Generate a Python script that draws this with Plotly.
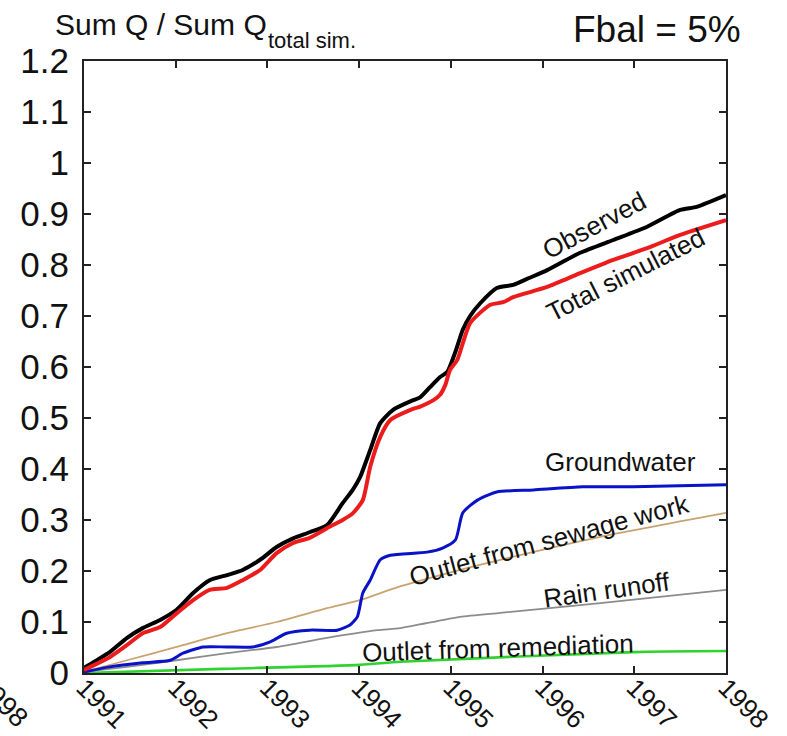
import plotly.graph_objects as go

# ---- data (years as decimals, values as fraction of total simulated) ----
obs_x = [1991.0, 1991.28, 1991.47, 1991.64, 1991.83, 1992.01, 1992.19, 1992.37, 1992.56, 1992.73,
         1992.92, 1993.10, 1993.28, 1993.46, 1993.65, 1993.82, 1993.93, 1994.01, 1994.12, 1994.23,
         1994.37, 1994.59, 1994.66, 1994.77, 1994.88, 1994.96, 1995.05, 1995.13, 1995.21, 1995.32,
         1995.50, 1995.68, 1995.86, 1996.05, 1996.41, 1996.77, 1997.14, 1997.50, 1997.68, 1998.0]
obs_y = [0.01, 0.041, 0.069, 0.088, 0.104, 0.124, 0.157, 0.182, 0.192, 0.202,
         0.222, 0.247, 0.264, 0.276, 0.29, 0.333, 0.359, 0.384, 0.437, 0.49,
         0.516, 0.535, 0.54, 0.56, 0.58, 0.59, 0.63, 0.673, 0.70, 0.725,
         0.755, 0.761, 0.775, 0.79, 0.824, 0.849, 0.875, 0.908, 0.914, 0.937]

sim_x = [1991.0, 1991.28, 1991.47, 1991.64, 1991.83, 1992.01, 1992.19, 1992.37, 1992.56, 1992.73,
         1992.92, 1993.10, 1993.28, 1993.46, 1993.65, 1993.82, 1993.93, 1994.04, 1994.12, 1994.23,
         1994.34, 1994.56, 1994.66, 1994.81, 1994.88, 1994.94, 1994.99, 1995.07, 1995.21, 1995.43,
         1995.57, 1995.68, 1996.05, 1996.41, 1996.77, 1997.14, 1997.50, 1998.0]
sim_y = [0.006, 0.031, 0.055, 0.078, 0.09, 0.117, 0.143, 0.163, 0.167, 0.182,
         0.202, 0.235, 0.255, 0.265, 0.284, 0.30, 0.313, 0.339, 0.404, 0.463,
         0.496, 0.516, 0.522, 0.535, 0.545, 0.565, 0.594, 0.614, 0.686, 0.722,
         0.727, 0.737, 0.757, 0.784, 0.81, 0.833, 0.859, 0.888]

gw_x = [1991.0, 1991.28, 1991.64, 1991.94, 1992.08, 1992.30, 1992.56, 1992.84, 1993.03, 1993.21,
        1993.46, 1993.76, 1993.90, 1993.98, 1994.04, 1994.12, 1994.23, 1994.34, 1994.74, 1994.91,
        1995.05, 1995.13, 1995.29, 1995.50, 1995.90, 1996.44, 1996.99, 1998.0]
gw_y = [0.002, 0.012, 0.02, 0.025, 0.039, 0.051, 0.051, 0.051, 0.061, 0.078,
        0.084, 0.084, 0.094, 0.11, 0.157, 0.182, 0.222, 0.231, 0.237, 0.245,
        0.261, 0.314, 0.339, 0.355, 0.359, 0.365, 0.365, 0.369]

sew_x = [1991.0, 1991.47, 1992.01, 1992.56, 1993.10, 1993.65, 1994.01, 1994.40, 1995.10, 1995.54, 1996.63, 1998.0]
sew_y = [0.002, 0.025, 0.051, 0.078, 0.10, 0.127, 0.143, 0.167, 0.202, 0.222, 0.267, 0.314]

rain_x = [1991.0, 1991.47, 1992.01, 1992.56, 1993.10, 1993.65, 1994.20, 1994.45, 1995.10, 1995.54, 1996.63, 1998.0]
rain_y = [0.002, 0.012, 0.025, 0.039, 0.051, 0.069, 0.084, 0.088, 0.11, 0.118, 0.137, 0.163]

rem_x = [1991.0, 1992.5, 1994.01, 1994.45, 1996.99, 1998.0]
rem_y = [0.0, 0.008, 0.016, 0.022, 0.041, 0.043]

year_ticks = [1991, 1992, 1993, 1994, 1995, 1996, 1997, 1998]
y_ticks = [0, 0.1, 0.2, 0.3, 0.4, 0.5, 0.6, 0.7, 0.8, 0.9, 1.0, 1.1, 1.2]

FONT = "Liberation Sans, Arial, sans-serif"

fig = go.Figure()
series = [
    (sew_x, sew_y, "#c9a36f", 1.8),
    (rain_x, rain_y, "#8c8c8c", 1.8),
    (rem_x, rem_y, "#2fd22f", 2.6),
    (gw_x, gw_y, "#0a12c8", 3.0),
    (obs_x, obs_y, "#000000", 4.0),
    (sim_x, sim_y, "#ec1c1c", 4.0),
]
for xs, ys, col, w in series:
    fig.add_trace(go.Scatter(x=xs, y=ys, mode="lines",
                             line=dict(color=col, width=w, shape="spline", smoothing=0.6),
                             showlegend=False, hoverinfo="skip"))

# curve labels
labels = [
    ("Observed", 1996.57, 0.878, -28),
    ("Total simulated", 1996.90, 0.78, -27),
    ("Groundwater", 1996.85, 0.414, 0),
    ("Outlet from sewage work", 1996.08, 0.261, -15),
    ("Rain runoff", 1996.70, 0.163, -8),
    ("Outlet from remediation", 1995.51, 0.049, -2),
]
for txt, lx, ly, ang in labels:
    fig.add_annotation(x=lx, y=ly, xref="x", yref="y", text=txt, showarrow=False,
                       textangle=ang, font=dict(family=FONT, size=26, color="#111111"))

# titles
fig.add_annotation(x=-0.0483, y=(673 - 25) / 612, xref="paper", yref="paper",
                   xanchor="left", yanchor="middle", showarrow=False,
                   text="Sum Q / Sum Q",
                   font=dict(family=FONT, size=30, color="#111111"))
fig.add_annotation(x=(266 - 84) / 642, y=(673 - 41) / 612, xref="paper", yref="paper",
                   xanchor="left", yanchor="middle", showarrow=False,
                   text="total sim.",
                   font=dict(family=FONT, size=22, color="#111111"))
fig.add_annotation(x=1.026, y=(673 - 30) / 612, xref="paper", yref="paper",
                   xanchor="right", yanchor="middle", showarrow=False,
                   text="Fbal = 5%", font=dict(family=FONT, size=37, color="#111111"))
# cropped tick label from neighbouring panel
fig.add_annotation(x=-0.128, y=-0.046, xref="paper", yref="paper",
                   xanchor="center", yanchor="middle", showarrow=False, textangle=45,
                   text="1998", font=dict(family=FONT, size=27, color="#111111"))

fig.update_layout(
    width=787, height=736,
    margin=dict(l=84, r=61, t=61, b=63),
    paper_bgcolor="white", plot_bgcolor="white",
    font=dict(family=FONT, color="#111111"),
)
fig.update_xaxes(range=[1991, 1998], tickmode="array", tickvals=year_ticks,
                 ticktext=[str(t) for t in year_ticks], tickangle=45,
                 tickfont=dict(size=26, family=FONT, color="#111111"),
                 ticks="inside", ticklen=7, tickwidth=1.5, tickcolor="#222",
                 showline=True, linecolor="#222", linewidth=2, mirror="ticks",
                 showgrid=False, zeroline=False, automargin=False,
                 ticklabelstandoff=-13)
fig.update_yaxes(range=[0, 1.2], tickmode="array", tickvals=y_ticks,
                 tickfont=dict(size=35, family=FONT, color="#111111"),
                 ticks="inside", ticklen=7, tickwidth=1.5, tickcolor="#222",
                 showline=True, linecolor="#222", linewidth=2, mirror="ticks",
                 showgrid=False, zeroline=False, ticklabelstandoff=6, automargin=False)

fig.write_html("out.html")
